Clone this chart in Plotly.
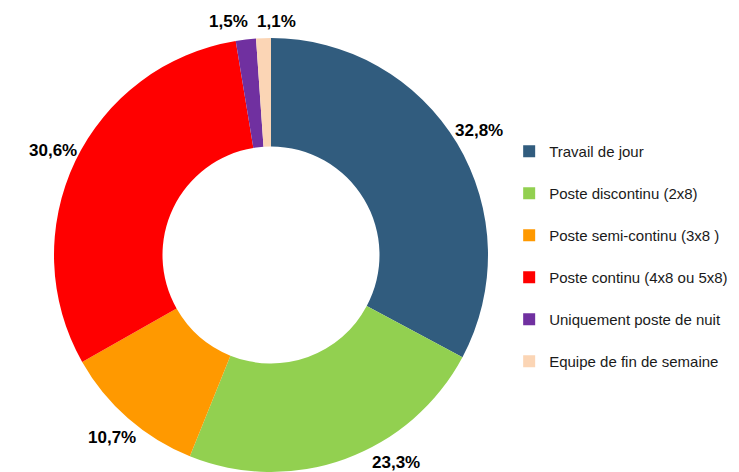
import math
import plotly.graph_objects as go

categories = [
    "Travail de jour",
    "Poste discontinu (2x8)",
    "Poste semi-continu (3x8 )",
    "Poste continu (4x8 ou 5x8)",
    "Uniquement poste de nuit",
    "Equipe de fin de semaine",
]
values = [32.8, 23.3, 10.7, 30.6, 1.5, 1.1]
value_labels = ["32,8%", "23,3%", "10,7%", "30,6%", "1,5%", "1,1%"]
colors = ["#315C7E", "#92D050", "#FF9900", "#FF0000", "#7030A0", "#FBD5B5"]

W, H = 739, 472
CX, CY, R = 271, 255, 217          # pie centre / radius in pixels (layout)
LABEL_DIST = 242                    # label distance from centre (px)
LABEL_W, LABEL_H = 48, 18           # approx label box for collision handling

fig = go.Figure(
    go.Pie(
        labels=[c + "<br>&nbsp;" for c in categories],
        values=values,
        textinfo="none",
        hole=0.5,
        sort=False,
        direction="clockwise",
        rotation=0,
        marker=dict(colors=colors, line=dict(width=0)),
        domain=dict(x=[(CX - R) / W, (CX + R) / W], y=[1 - (CY + R) / H, 1 - (CY - R) / H]),
        hovertext=value_labels,
        hoverinfo="label+text",
        showlegend=True,
    )
)

# Percentage labels placed radially at each slice's mid-angle (computed from values)
total = sum(values)
pos = []
cum = 0.0
for v in values:
    ang = 2 * math.pi * (cum + v / 2) / total
    cum += v
    x = CX + LABEL_DIST * math.sin(ang)
    y = CY - LABEL_DIST * math.cos(ang)
    # keep the label inside the canvas, sliding it along the circle
    if y > H - 10:
        y = H - 10
        dx = math.sqrt(max(LABEL_DIST ** 2 - (y - CY) ** 2, 0))
        x = CX + math.copysign(dx, math.sin(ang))
    if y < 22:
        y = 22
    pos.append([x, y])

# resolve overlaps between neighbouring labels by pushing them apart symmetrically
for i in range(len(pos) - 1, 0, -1):
    a, b = pos[i - 1], pos[i]
    if abs(a[1] - b[1]) < LABEL_H and abs(a[0] - b[0]) < LABEL_W:
        mid = (a[0] + b[0]) / 2
        if a[0] <= b[0]:
            a[0], b[0] = mid - LABEL_W / 2, mid + LABEL_W / 2
        else:
            b[0], a[0] = mid - LABEL_W / 2, mid + LABEL_W / 2

for (x, y), t in zip(pos, value_labels):
    fig.add_annotation(
        x=x / W, y=1 - y / H, xref="paper", yref="paper",
        text=t, showarrow=False, xanchor="center", yanchor="middle",
        font=dict(family="Liberation Sans, Arial", size=17, color="#000000", weight="bold"),
    )

fig.update_layout(
    width=W,
    height=H,
    margin=dict(l=0, r=0, t=0, b=0),
    paper_bgcolor="white",
    plot_bgcolor="white",
    legend=dict(
        x=0.689,
        y=0.714,
        xanchor="left",
        yanchor="top",
        valign="top",
        itemwidth=30,
        font=dict(family="Liberation Sans, Arial", size=15, color="#1a1a1a"),
        bgcolor="rgba(0,0,0,0)",
    ),
)

fig.write_html(
    "out.html",
    config={"displayModeBar": False},
    post_script="document.body.style.margin='0';document.body.style.padding='0';",
)
